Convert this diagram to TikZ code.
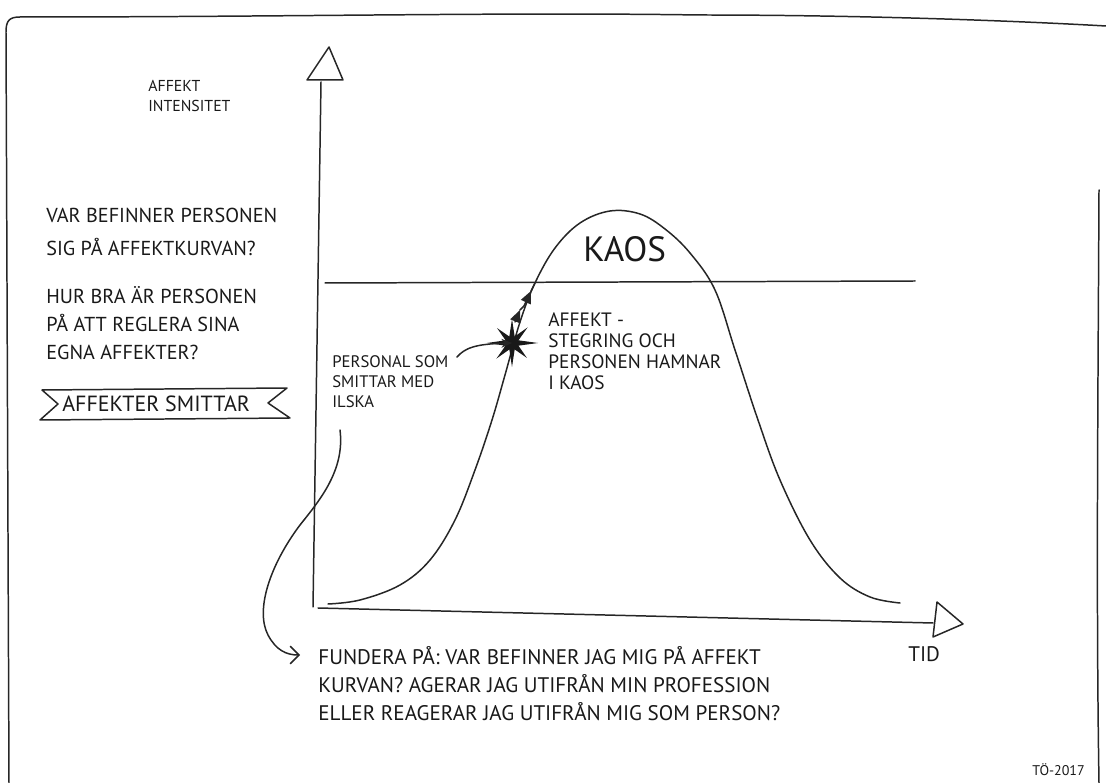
\documentclass[tikz,border=0pt]{standalone}
\usepackage{fontspec}
\setmainfont{PT Sans}
\usetikzlibrary{arrows.meta}
\begin{document}
\begin{tikzpicture}[x=0.02cm,y=-0.02cm,line cap=round,line join=round,
  ink/.style={draw=black!85,line width=0.85pt},
  txt/.style={inner sep=0pt,anchor=base west,align=left,text=black!90}]
\useasboundingbox (0,0) rectangle (1106,783);
% frame
\draw[ink] (1106,26) .. controls (1000,20) and (850,15) .. (700,15) .. controls (500,12) and (300,17) .. (20,17) .. controls (9,17) and (6,21) .. (6,32) -- (9,783);
\draw[ink] (1099,190) .. controls (1098,400) and (1096,600) .. (1099,783);
% axes
\coordinate (ytop) at (321,82);
\coordinate (orig) at (313,607);
\coordinate (xstart) at (318,608);
\coordinate (xend) at (933,623);
\draw[ink] (ytop) -- (orig);
\draw[ink] (307,80) -- (343,80) -- (329,47) -- cycle;
\draw[ink] (xstart) -- (xend);
\draw[ink] (937,602) -- (963,624) -- (933,637) -- cycle;
% threshold
\coordinate (th1) at (325,283);
\coordinate (th2) at (915,281);
\draw[ink] (th1) -- (th2);
% bell curve
\draw[ink] plot[smooth,tension=0.6] coordinates {(328,604) (360,600) (400,585) (430,560) (455,520) (475,470) (492,420) (505,375) (520,322) (535,283) (555,248) (580,223) (610,211) (640,214) (665,229) (690,253) (715,290) (735,350) (758,420) (780,480) (810,540) (840,578) (870,597) (900,603)};
% star
\coordinate (star) at (512,343);
\begin{scope}[shift={(512,343)}]
\fill[black!90] (0:26) -- (22.5:7) -- (45:21) -- (67.5:7) -- (90:24) -- (112.5:7) -- (135:22) -- (157.5:7) -- (180:25) -- (202.5:7) -- (225:21) -- (247.5:7) -- (270:24) -- (292.5:7) -- (315:22) -- (337.5:7) -- cycle;
\end{scope}
% jagged arrows up
\coordinate (j1) at (515,322);
\coordinate (j2) at (520,310);
\coordinate (j3) at (524,306);
\coordinate (j4) at (531,291);
\coordinate (j5) at (535,283);
\draw[ink,-{Triangle[length=7pt,width=6pt]}] (j1) -- (j2);
\draw[ink] (j2) -- (j3);
\draw[ink,-{Triangle[length=7pt,width=6pt]}] (j3) -- (j4);
\draw[ink] (j4) -- (j5);
% texts (anchored at the baseline of the last line)
\node[txt,font=\fontsize{9}{11.4}\selectfont] (ylab) at (148,112) {AFFEKT\\INTENSITET};
\node[txt,font=\fontsize{11.5}{19}\selectfont] (q1) at (46,256) {VAR BEFINNER PERSONEN\\SIG PÅ AFFEKTKURVAN?};
\node[txt,font=\fontsize{11.5}{16}\selectfont] (q2) at (46,360) {HUR BRA ÄR PERSONEN\\PÅ ATT REGLERA SINA\\EGNA AFFEKTER?};
\node[txt,font=\fontsize{12.5}{16}\selectfont] (ban) at (62,412) {AFFEKTER SMITTAR};
\draw[ink] (42,390) -- (287,388) -- (268,403) -- (290,418) -- (40,420) -- (58,404) -- cycle;
\node[txt,font=\fontsize{9.5}{11.4}\selectfont] (pers) at (332,408) {PERSONAL SOM\\SMITTAR MED\\ILSKA};
\node[txt,font=\fontsize{11}{12}\selectfont] (steg) at (548,390) {AFFEKT -\\STEGRING OCH\\PERSONEN HAMNAR\\I KAOS};
\node[txt,font=\fontsize{20}{20}\selectfont] (kaos) at (583,262) {KAOS};
\node[txt,font=\fontsize{12}{16}\selectfont] (fund) at (318,721) {FUNDERA PÅ: VAR BEFINNER JAG MIG PÅ AFFEKT\\KURVAN? AGERAR JAG UTIFRÅN MIN PROFESSION\\ELLER REAGERAR JAG UTIFRÅN MIG SOM PERSON?};
\node[txt,font=\fontsize{12}{12}\selectfont] (tid) at (908,662) {TID};
\node[txt,font=\fontsize{8}{8}\selectfont] (sign) at (1032,775) {TÖ-2017};
% connectors
\coordinate (pa) at (457,357);
\draw[ink,-{Stealth[length=6pt,width=5pt]}] (pa) .. controls (465,348) and (475,344) .. (star);
\coordinate (s0) at (340,430);
\coordinate (s1) at (300,655);
\draw[ink,-{Straight Barb[length=5pt,width=10pt]}] (s0) .. controls (345,470) and (320,500) .. (300,525) .. controls (270,565) and (255,610) .. (268,635) .. controls (276,650) and (286,655) .. (s1);
\end{tikzpicture}
\end{document}
